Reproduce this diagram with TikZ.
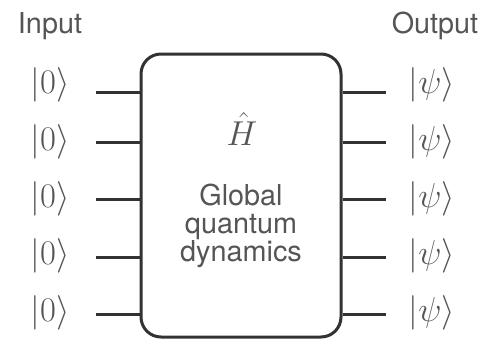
\documentclass[tikz,border=0pt]{standalone}
\usepackage{fontspec}
\setmainfont{TeX Gyre Heros}
\usetikzlibrary{positioning}
\definecolor{wiregray}{RGB}{50,50,50}
\definecolor{textgray}{RGB}{85,85,85}

\begin{document}
\begin{tikzpicture}[
  x=0.5pt, y=0.5pt,
  wire/.style={line width=1.5pt, draw=wiregray},
  ket/.style={font=\fontsize{16}{19}\selectfont, text=textgray, inner sep=0pt},
  heading/.style={font=\fontsize{14.4}{17}\selectfont, text=textgray, anchor=base, inner sep=0pt},
  gate/.style={draw=wiregray, line width=1.5pt, rounded corners=10pt,
               minimum width=100pt, minimum height=141.5pt, inner sep=0pt}
]
  \useasboundingbox (0,0) rectangle (482,344);
  \node[gate] (gate) at (241,148.5) {};
  \node[heading] (input) at (50,311) {Input};
  \node[heading] (output) at (435,311) {Output};
  \node[font=\fontsize{16}{18}\selectfont, text=textgray, anchor=base, inner sep=0pt] (ham) at (242,199) {$\hat{H}$};
  \node[font=\fontsize{14.4}{14}\selectfont, text=textgray, align=center, inner sep=0pt] (dyn) at (241,118)
    {Global\\quantum\\dynamics};
  \foreach \i/\ly/\wy in {1/259/252, 2/202/202, 3/145/145, 4/88/87, 5/31/30} {
    \node[ket] (in\i) at (50,\ly) {$|0\rangle$};
    \node[ket] (out\i) at (432,\ly) {$|\psi\rangle$};
    \coordinate (win\i) at (96,\wy);
    \coordinate (wout\i) at (386,\wy);
    \draw[wire] (win\i) -- (win\i -| gate.west);
    \draw[wire] (gate.east |- wout\i) -- (wout\i);
  }
\end{tikzpicture}
\end{document}
